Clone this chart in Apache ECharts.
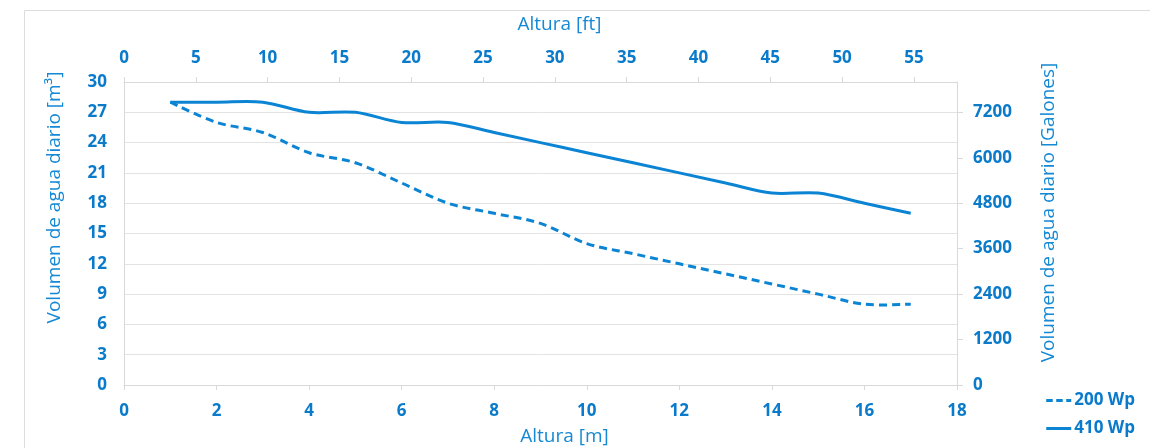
<!DOCTYPE html>
<html><head><meta charset="utf-8">
<script src="https://cdn.jsdelivr.net/npm/echarts@6/dist/echarts.min.js"></script>
<style>html,body{margin:0;padding:0;background:#fff}#c{width:1150px;height:448px}</style>
</head><body><div id="c"></div>
<script>
const alturaM = [1,2,3,4,5,6,7,8,9,10,11,12,13,14,15,16,17];
const wp200 = [28,26,25,23,22,20,18,17,16,14,13,12,11,10,9,8,8];
const wp410 = [28,28,28,27,27,26,26,25,24,23,22,21,20,19,19,18,17];
const seriesNames = ['200 Wp','410 Wp'];
const LC = '#0b84d4';
const TC = '#0a7acb';
const NC = '#1589d5';
const F = '"Open Sans", "Noto Sans", sans-serif';
const chart = echarts.init(document.getElementById('c'));
const lab = {color:TC, fontWeight:'bold', fontSize:17, fontFamily:F};
const nm = (pad) => ({color:NC, fontSize:19, fontFamily:F, padding:[0,0,0,pad]});

// Smooth curve (Catmull-Rom style) through the data points, mapped via the axes.
function smoothPath(pts){
  let d = 'M' + pts[0][0] + ',' + pts[0][1];
  for (let i = 0; i < pts.length - 1; i++) {
    const p0 = pts[Math.max(i-1,0)], p1 = pts[i], p2 = pts[i+1], p3 = pts[Math.min(i+2, pts.length-1)];
    const k = 1/6;
    const c1x = p1[0] + (p2[0]-p0[0])*k, c1y = p1[1] + (p2[1]-p0[1])*k;
    const c2x = p2[0] - (p3[0]-p1[0])*k, c2y = p2[1] - (p3[1]-p1[1])*k;
    d += 'C' + c1x + ',' + c1y + ',' + c2x + ',' + c2y + ',' + p2[0] + ',' + p2[1];
  }
  return d;
}
function makeSeries(name, ys, dash){
  return {
    name:name, type:'custom', xAxisIndex:0, yAxisIndex:0,
    data: alturaM.map((x,i)=>[x, ys[i]]),
    encode:{x:0, y:1},
    itemStyle:{color:LC},
    renderItem:function(params, api){
      if (params.dataIndex !== 0) return null;
      const pts = alturaM.map((x,i)=>api.coord([x, ys[i]]));
      return {type:'path', shape:{pathData: smoothPath(pts)},
        style:{fill:null, stroke:LC, lineWidth:3, lineDash: dash ? [8,5] : null, lineCap:'butt'}};
    }
  };
}
const axLine = {onZero:false, lineStyle:{color:'#d9d9d9'}};
chart.setOption({
  animation:false,
  graphic:[{type:'rect', shape:{x:24.5,y:10.5,width:1200,height:500}, style:{fill:'none',stroke:'#dcdcdc',lineWidth:1}, silent:true}],
  grid:{left:124,right:193,top:82,bottom:63, outerBoundsMode:'none', containLabel:false},
  legend:{orient:'vertical', right:10, bottom:6, itemWidth:25, itemHeight:3, itemGap:11,
    textStyle:{color:TC,fontWeight:'bold',fontSize:17,fontFamily:F,padding:[0,0,0,-2]},
    data:[
      {name:seriesNames[0], icon:'path://M0,0h6.5v3H0z M10,0h6.5v3H10z M20,0h5v3h-5z'},
      {name:seriesNames[1], icon:'path://M0,0h25v3H0z'}
    ]},
  xAxis:[
    {type:'value', position:'bottom', min:0, max:18, interval:2,
     name:'Altura [m]', nameLocation:'middle', nameGap:42, nameTextStyle:nm(48), nameMoveOverlap:false,
     axisLine:axLine, axisTick:{show:true,length:5,lineStyle:{color:'#d9d9d9'}},
     axisLabel:Object.assign({margin:18}, lab), splitLine:{show:false}},
    {type:'value', position:'top', min:0, max:58, interval:5,
     name:'Altura [ft]', nameLocation:'middle', nameGap:48, nameTextStyle:nm(38), nameMoveOverlap:false,
     axisLine:axLine, axisTick:{show:true,length:5,lineStyle:{color:'#d9d9d9'}},
     axisLabel:Object.assign({margin:15, showMaxLabel:false}, lab), splitLine:{show:false}}
  ],
  yAxis:[
    {type:'value', position:'left', min:0, max:30, interval:3,
     name:'Volumen de agua diario [m³]', nameLocation:'middle', nameGap:60, nameTextStyle:nm(72), nameMoveOverlap:false,
     axisLine:Object.assign({show:true}, axLine), axisTick:{show:false},
     axisLabel:Object.assign({margin:17}, lab), splitLine:{lineStyle:{color:'#e3e3e3'}}},
    {type:'value', position:'right', min:0, max:8000, interval:1200,
     name:'Volumen de agua diario [Galones]', nameLocation:'middle', nameGap:82, nameTextStyle:nm(42), nameMoveOverlap:false,
     axisLine:Object.assign({show:true}, axLine), axisTick:{show:true,length:6,lineStyle:{color:'#d9d9d9'}},
     axisLabel:Object.assign({margin:16, showMaxLabel:false, formatter:v=>String(v)}, lab), splitLine:{show:false}}
  ],
  series:[ makeSeries(seriesNames[0], wp200, true), makeSeries(seriesNames[1], wp410, false) ]
});
</script></body></html>
